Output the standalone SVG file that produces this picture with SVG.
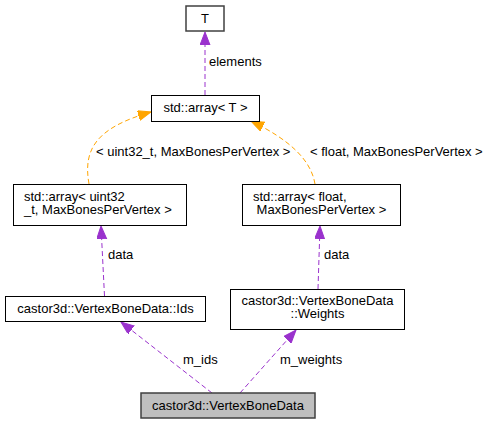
<svg xmlns="http://www.w3.org/2000/svg" width="492" height="424" viewBox="0 0 492 424">
<style>
text{font-family:"Liberation Sans",Arial,sans-serif;font-size:13px;fill:#000}
.c{text-anchor:middle}
.box{fill:#fff;stroke:#000;stroke-width:1}
.gbox{fill:#fff;stroke:#404040;stroke-width:1.5}
.root{fill:#bfbfbf;stroke:#404040;stroke-width:1.5}
.ep{fill:none;stroke:#9a32cd;stroke-width:1;stroke-dasharray:5,3}
.eo{fill:none;stroke:#ffa500;stroke-width:1;stroke-dasharray:5,3}
</style>
<defs>
<marker id="ap" markerUnits="userSpaceOnUse" markerWidth="14" markerHeight="12" refX="13" refY="5" orient="auto"><path d="M0,0 L13,5 L0,10 z" fill="#9a32cd" stroke="#9a32cd"/></marker>
<marker id="ao" markerUnits="userSpaceOnUse" markerWidth="14" markerHeight="12" refX="13" refY="5" orient="auto"><path d="M0,0 L13,5 L0,10 z" fill="#ffa500" stroke="#ffa500"/></marker>
</defs>
<g id="edges">
<path class="ep" d="M205,95 L205,32" marker-end="url(#ap)"/>
<text x="209" y="66">elements</text>
<path class="eo" d="M89,184 C83,150 95,128 151,112" marker-end="url(#ao)"/>
<text x="96" y="156">&lt; uint32_t, MaxBonesPerVertex &gt;</text>
<path class="eo" d="M315,184 C311,160 290,140 251,121" marker-end="url(#ao)"/>
<text x="310" y="156">&lt; float, MaxBonesPerVertex &gt;</text>
<path class="ep" d="M104.5,296 L101,226" marker-end="url(#ap)"/>
<text x="108" y="259">data</text>
<path class="ep" d="M318,289 L320,226" marker-end="url(#ap)"/>
<text x="324" y="259">data</text>
<path class="ep" d="M212,393 L121,322" marker-end="url(#ap)"/>
<text x="183" y="364">m_ids</text>
<path class="ep" d="M240,393 L296,330" marker-end="url(#ap)"/>
<text x="280" y="364">m_weights</text>
</g>
<g id="node_T"><rect class="gbox" x="186" y="6" width="38" height="25"/><text class="c" x="205" y="22.5">T</text></g>
<g id="node_arrayT"><rect class="box" x="151.5" y="95.5" width="108" height="26"/><text class="c" x="205.5" y="112">std::array&lt; T &gt;</text></g>
<g id="node_arrayU"><rect class="box" x="13.5" y="184.5" width="173" height="41"/><text x="24" y="201">std::array&lt; uint32</text><text x="24" y="214">_t, MaxBonesPerVertex &gt;</text></g>
<g id="node_arrayF"><rect class="box" x="242.5" y="184.5" width="158" height="41"/><text x="253" y="201" xml:space="preserve">std::array&lt; float,</text><text x="253" y="214" xml:space="preserve"> MaxBonesPerVertex &gt;</text></g>
<g id="node_Ids"><rect class="box" x="5.5" y="296.5" width="200" height="25"/><text class="c" x="105.5" y="312.5">castor3d::VertexBoneData::Ids</text></g>
<g id="node_Weights"><rect class="box" x="230.5" y="289.5" width="174" height="40"/><text class="c" x="317.5" y="305">castor3d::VertexBoneData</text><text class="c" x="317.5" y="318">::Weights</text></g>
<g id="node_root"><rect class="root" x="141" y="393" width="174" height="25"/><text class="c" x="228" y="409.5">castor3d::VertexBoneData</text></g>
</svg>
